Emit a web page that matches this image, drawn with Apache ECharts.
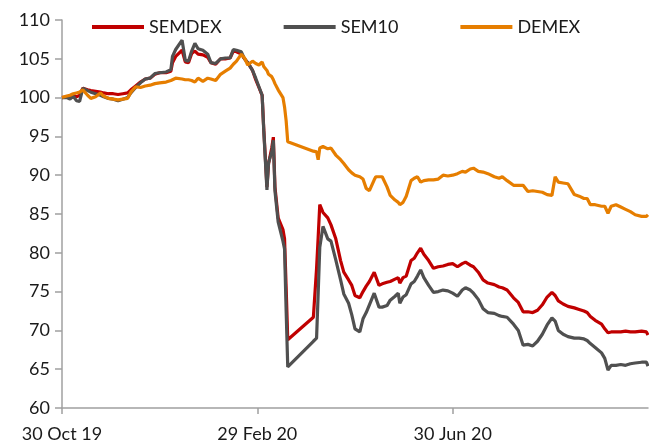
<!DOCTYPE html>
<html>
<head>
<meta charset="utf-8">
<script src="https://cdn.jsdelivr.net/npm/echarts@6/dist/echarts.min.js"></script>
<style>
  html, body { margin: 0; padding: 0; background: #fff; }
  #chart { width: 649px; height: 445px; }
</style>
</head>
<body>
<div id="chart"></div>
<script>
var dates = [
  '2019-10-30','2019-11-02','2019-11-04','2019-11-06','2019-11-08','2019-11-10','2019-11-12','2019-11-15','2019-11-17','2019-11-20',
  '2019-11-23','2019-11-25','2019-11-28','2019-12-01','2019-12-04','2019-12-07','2019-12-10','2019-12-12','2019-12-15','2019-12-18',
  '2019-12-21','2019-12-24','2019-12-27','2019-12-30','2020-01-03','2020-01-06','2020-01-07','2020-01-09','2020-01-13','2020-01-15',
  '2020-01-17','2020-01-19','2020-01-21','2020-01-23','2020-01-26','2020-01-29','2020-01-31','2020-02-03','2020-02-06','2020-02-09',
  '2020-02-12','2020-02-14','2020-02-16','2020-02-19','2020-02-21','2020-02-23','2020-02-26','2020-02-28','2020-03-01','2020-03-03',
  '2020-03-04','2020-03-06','2020-03-07','2020-03-09','2020-03-10','2020-03-11','2020-03-13','2020-03-16','2020-03-17','2020-03-18',
  '2020-03-19','2020-04-04','2020-04-06','2020-04-07','2020-04-08','2020-04-10','2020-04-13','2020-04-15','2020-04-18','2020-04-21',
  '2020-04-23','2020-04-26','2020-04-28','2020-04-30','2020-05-03','2020-05-05','2020-05-07','2020-05-09','2020-05-12','2020-05-13',
  '2020-05-15','2020-05-17','2020-05-20','2020-05-22','2020-05-25','2020-05-27','2020-05-28','2020-05-30','2020-06-01','2020-06-04',
  '2020-06-06','2020-06-08','2020-06-10','2020-06-12','2020-06-15','2020-06-18','2020-06-21','2020-06-24','2020-06-27','2020-06-30',
  '2020-07-03','2020-07-06','2020-07-08','2020-07-11','2020-07-13','2020-07-16','2020-07-19','2020-07-22','2020-07-26','2020-07-29',
  '2020-07-31','2020-08-03','2020-08-07','2020-08-10','2020-08-13','2020-08-16','2020-08-19','2020-08-22','2020-08-25','2020-08-28',
  '2020-08-31','2020-09-02','2020-09-04','2020-09-07','2020-09-10','2020-09-14','2020-09-17','2020-09-20','2020-09-22','2020-09-24',
  '2020-09-27','2020-10-01','2020-10-03','2020-10-05','2020-10-07','2020-10-10','2020-10-13','2020-10-16','2020-10-19','2020-10-22',
  '2020-10-26','2020-10-29','2020-10-30'
];

var semdex = [
  100.0,100.1,100.2,100.3,100.1,100.3,101.2,101.0,100.9,100.8,
  100.7,100.6,100.5,100.5,100.4,100.5,100.6,101.0,101.5,102.0,
  102.4,102.5,103.0,103.2,103.2,103.4,104.5,105.3,106.1,104.6,
  104.5,105.7,106.0,105.6,105.5,105.2,104.5,104.3,105.0,105.0,
  105.1,106.0,105.9,105.6,105.0,104.5,103.5,102.3,101.3,100.3,
  96.0,88.5,91.5,93.5,94.9,88.5,84.5,83.0,81.8,75.5,
  68.8,71.7,78.0,82.0,86.2,85.2,84.5,83.6,81.8,79.0,
  77.5,76.5,75.8,74.5,74.2,75.0,75.7,76.3,77.5,77.4,
  75.8,76.0,76.2,76.3,76.6,76.8,76.1,76.8,77.0,79.0,
  79.3,80.0,80.6,79.8,79.0,78.0,78.2,78.3,78.5,78.6,
  78.2,78.6,78.8,78.4,78.2,77.5,76.5,76.1,75.9,75.6,
  75.5,75.2,74.2,73.6,72.4,72.4,72.3,72.6,73.3,74.3,
  74.9,74.5,73.8,73.4,73.1,72.9,72.7,72.5,72.3,71.8,
  71.3,70.8,70.2,69.7,69.8,69.8,69.8,69.9,69.8,69.8,
  69.9,69.8,69.4
];

var sem10 = [
  100.0,100.0,99.8,100.2,99.6,99.5,101.2,100.9,100.7,100.5,
  100.3,100.1,99.9,99.8,99.6,99.8,100.0,100.6,101.3,101.9,
  102.4,102.5,103.1,103.2,103.3,103.6,105.3,106.2,107.4,104.8,
  104.7,106.0,107.0,106.3,106.1,105.6,104.5,104.4,105.0,105.1,
  105.1,106.2,106.1,105.9,105.0,104.5,103.5,102.5,101.4,100.3,
  95.8,88.1,91.6,93.0,94.5,88.0,84.0,81.5,80.5,72.5,
  65.3,68.6,69.0,74.8,80.7,83.4,81.8,81.5,79.1,76.5,
  74.7,73.5,72.0,70.2,69.8,71.5,72.3,73.3,74.8,74.7,
  73.0,73.0,73.2,73.9,74.4,74.8,73.5,74.3,74.6,76.0,
  76.3,77.0,77.8,76.8,75.8,74.9,75.0,75.2,75.1,74.8,
  74.4,75.2,75.5,75.2,74.8,74.0,72.8,72.3,72.2,71.9,
  71.8,71.7,70.8,70.0,68.1,68.2,68.0,68.6,69.5,70.7,
  71.6,71.2,70.0,69.5,69.2,69.0,69.0,68.9,68.7,68.3,
  67.8,67.1,66.4,64.9,65.5,65.5,65.6,65.5,65.7,65.8,
  65.9,65.9,65.4
];

var demex = [
  100.0,100.2,100.3,100.5,100.6,100.7,101.0,100.3,99.9,100.1,
  100.6,100.2,99.9,99.8,99.7,99.8,99.9,100.7,101.4,101.3,
  101.5,101.6,101.8,101.9,102.0,102.2,102.3,102.5,102.4,102.3,
  102.3,102.2,102.0,102.5,102.1,102.5,102.4,102.2,103.0,103.4,
  103.8,104.3,104.7,105.6,105.1,104.2,104.7,104.4,104.2,104.6,
  104.0,103.5,103.0,102.7,102.3,101.8,101.0,100.0,98.8,97.0,
  94.3,93.1,93.0,92.0,93.5,93.7,93.4,93.5,92.6,92.0,
  91.5,90.7,90.3,90.0,89.8,89.5,88.3,88.0,89.4,89.8,
  89.8,89.8,88.5,87.4,86.8,86.5,86.2,86.5,87.3,89.3,
  89.6,89.8,89.1,89.3,89.4,89.4,89.5,90.0,89.9,90.0,
  90.2,90.5,90.4,90.8,90.9,90.5,90.4,90.2,89.8,89.6,
  89.8,89.3,88.7,88.7,88.7,87.9,88.0,87.9,87.8,87.5,
  87.4,89.8,89.1,89.0,88.9,87.5,87.3,87.0,87.0,86.2,
  86.2,86.0,86.0,85.1,86.0,86.2,85.9,85.6,85.3,84.9,
  84.7,84.7,84.9
];

var tickDates = ['2019-10-30', '2020-02-29', '2020-06-30'];
var tickLabels = ['30 Oct 19', '29 Feb 20', '30 Jun 20'];
var startDate = '2019-10-30';
var endDate = '2020-10-30';

function dayOf(s) {
  return Math.round((Date.parse(s) - Date.parse(startDate)) / 86400000);
}

function pairs(vals) {
  return dates.map(function (d, i) { return [dayOf(d), vals[i]]; });
}

var tickDays = tickDates.map(dayOf);
var font = 'Lato, "Open Sans", sans-serif';

var myChart = echarts.init(document.getElementById('chart'));

var option = {
  animation: false,
  backgroundColor: '#fff',
  legend: {
    left: 92,
    top: 18,
    padding: 0,
    icon: 'rect',
    itemWidth: 52,
    itemHeight: 4,
    itemGap: 62,
    textStyle: { fontFamily: font, fontSize: 18, color: '#1a1a1a' },
    data: ['SEMDEX', 'SEM10', 'DEMEX']
  },
  grid: { left: 62, right: 1, top: 20, bottom: 37, containLabel: false },
  xAxis: {
    type: 'value',
    min: 0,
    max: dayOf(endDate),
    interval: 122,
    axisLine: { lineStyle: { color: '#a0a0a0', width: 1.5 } },
    axisTick: { show: true, length: 6, customValues: tickDays, lineStyle: { color: '#a0a0a0', width: 1.5 } },
    splitLine: { show: false },
    axisLabel: {
      customValues: tickDays,
      margin: 17,
      fontFamily: font,
      fontSize: 18,
      color: '#1a1a1a',
      formatter: function (v) {
        var i = tickDays.indexOf(v);
        return i >= 0 ? tickLabels[i] : '';
      }
    }
  },
  yAxis: {
    type: 'value',
    min: 60,
    max: 110,
    interval: 5,
    axisLine: { show: true, lineStyle: { color: '#a0a0a0', width: 1.5 } },
    axisTick: { show: true, length: 7, lineStyle: { color: '#a0a0a0', width: 1.5 } },
    splitLine: { show: false },
    axisLabel: { margin: 12, fontFamily: font, fontSize: 18, color: '#1a1a1a' }
  },
  series: [
    {
      name: 'SEMDEX', type: 'line', symbol: 'none',
      itemStyle: { color: '#c00000' },
      lineStyle: { color: '#c00000', width: 3.2 },
      data: pairs(semdex)
    },
    {
      name: 'SEM10', type: 'line', symbol: 'none',
      itemStyle: { color: '#505050' },
      lineStyle: { color: '#505050', width: 3.2 },
      data: pairs(sem10)
    },
    {
      name: 'DEMEX', type: 'line', symbol: 'none',
      itemStyle: { color: '#e67e00' },
      lineStyle: { color: '#e67e00', width: 3.2 },
      data: pairs(demex)
    }
  ]
};

myChart.setOption(option);
window.onresize = function () {
  myChart.resize();
};
</script>
</body>
</html>
